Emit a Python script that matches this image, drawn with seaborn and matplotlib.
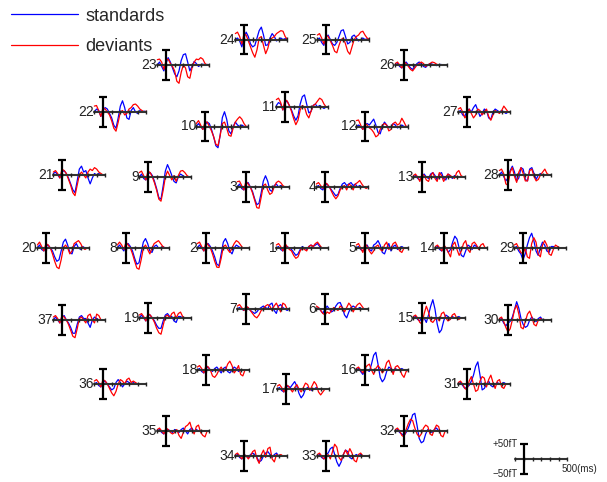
import pandas as pd
import matplotlib.pyplot as plt
from matplotlib.lines import Line2D
import seaborn as sns

sns.set_style('white')
plt.rcParams['font.family'] = ['Liberation Sans', 'DejaVu Sans']

# ---------------------------------------------------------------
# Dados: campos (fT) por canal, amostras de -100 a 500 ms a cada 25 ms
# ---------------------------------------------------------------
times = list(range(-100, 501, 25))

std1 = [0, 5, -5, -10, 5, 5, 0, -5, -15, -25, -20, -5, 5, 0, -5, 5, 10, 5, 10, 15, 5, 0, 0, 0, 0]
dev1 = [10, 15, 5, -10, 15, 5, -5, -10, -25, -35, -30, -10, 0, -5, -10, 5, 10, 5, 15, 20, 10, 0, 0, 0, 0]
std2 = [0, 10, 0, -10, 10, 15, 5, -10, -30, -55, -60, -20, 20, 32, 15, -10, -20, 0, 10, 5, 0, 0, 0, 0, 0]
dev2 = [15, 20, 5, -10, 20, 10, 0, -20, -45, -65, -66, -35, 5, 10, -5, -15, 0, 15, 25, 20, 10, 0, 0, 0, 0]
std3 = [0, 10, -5, -10, 10, 15, 0, -15, -40, -60, -55, -20, 20, 38, 20, -10, -15, 5, 10, 0, 5, 0, 0, 0, 0]
dev3 = [18, 20, 5, -10, 20, 10, 0, -20, -45, -70, -72, -35, 5, 10, -10, -25, -20, 0, 15, 20, 15, 5, 0, 0, 0]
std4 = [0, 5, -5, -10, 5, 10, 0, -10, -20, -30, -25, -5, 10, 15, 5, 10, 15, 5, 10, 0, 5, 0, 0, 0, 0]
dev4 = [10, 15, 5, -5, 15, 10, 0, -15, -30, -40, -30, -10, 0, 5, -10, 10, 5, -10, 10, 15, 22, 10, 0, -5, 0]
std5 = [0, 5, -5, -10, 5, 10, -5, -10, 10, 15, 25, 10, -15, -20, 0, 15, -10, 5, 10, -5, 0, 5, 0, 0, 0]
dev5 = [10, 15, 0, -15, 15, 5, -10, -20, -10, 5, 10, -5, -10, 10, 20, -5, 0, 15, 20, 5, -10, -15, 0, 0, 0]
std6 = [0, 5, -5, -15, 0, 10, 0, -10, -5, 10, 20, 22, 5, -20, -30, -10, 5, 10, 5, 0, 5, 0, 0, 0, 0]
dev6 = [10, 5, -5, -15, -20, -10, -15, -5, 5, 0, -5, 10, 5, -10, 5, 20, 10, -10, 5, 15, 20, 10, 0, 0, 0]
std7 = [0, 5, 0, -5, 5, 5, -5, -10, -15, -10, 0, 5, 10, 5, 0, 15, 20, -5, -15, 10, 15, 5, 0, -5, 0]
dev7 = [10, 15, 5, -5, 10, 5, -5, -15, -25, -30, -20, -5, 0, 10, 15, 10, -5, 10, 20, 5, -10, 20, 15, 0, 0]
std8 = [0, 10, 0, -10, 10, 15, 5, -10, -35, -55, -50, -15, 20, 32, 15, -10, -15, 5, 10, 0, 0, 5, 0, 0, 0]
dev8 = [10, 20, 10, -5, 20, 10, 0, -20, -45, -68, -72, -40, 0, 10, -5, -20, 0, 15, 20, 25, 15, 5, 0, 0, 0]
std9 = [0, 10, -5, -10, 10, 15, 5, -15, -40, -70, -75, -30, 20, 42, 25, 5, -15, -20, 0, 10, 5, 0, 0, 0, 0]
dev9 = [15, 20, 5, -10, 20, 15, 0, -20, -45, -75, -82, -45, 0, 20, 5, -10, 5, -15, 5, 20, 22, 15, 5, 0, 0]
std10 = [0, 10, 0, -10, 5, 15, 10, -10, -35, -65, -72, -30, 30, 50, 25, -15, -25, 0, 15, 5, 0, 5, 0, 0, 0]
dev10 = [10, 20, 5, -10, 15, 15, 0, -15, -35, -60, -65, -30, 10, 15, -5, -30, -33, -5, 15, 25, 33, 25, 10, 0, 0]
std11 = [5, 15, 10, -10, 15, 20, 5, -10, -30, -45, -30, 10, 35, 41, 10, -20, -15, 5, 10, 0, 5, 0, -5, 0, 0]
dev11 = [25, 30, 15, -10, 25, 20, 5, -15, -40, -60, -45, -10, 5, 0, -25, -37, -15, 5, 10, 20, 30, 25, 10, 0, 0]
std12 = [0, 5, 0, -10, 5, 10, 5, 15, 25, 5, -20, -25, 0, 15, 5, -5, 0, 10, 5, -5, 0, 5, 0, 0, 0]
dev12 = [20, 22, 5, -10, 10, 5, -5, -10, -20, -35, -30, -10, 5, 10, 5, -15, -10, 10, 15, 5, 10, 28, 15, 0, 0]
std13 = [0, 5, -5, -10, 5, 10, 0, -5, 10, 15, 5, -10, 10, 15, -5, -10, 10, 5, -5, 5, 0, 0, 0, 0, 0]
dev13 = [5, 10, 0, -15, 10, 5, -10, -15, 5, 15, -5, -15, 15, 5, -15, 0, 10, 5, 0, -5, 15, 22, 5, 0, 0]
std14 = [0, 5, -5, -10, 5, 0, -15, -5, 20, 40, 30, 0, -25, -30, -10, 10, 5, -5, 10, 5, 0, 0, 0, 0, 0]
dev14 = [5, 10, 0, -10, 10, 0, -15, -30, 10, 20, -5, -25, -10, 15, 25, -5, -15, 15, 20, 10, -5, 10, 15, 0, 0]
std15 = [0, 5, -5, -10, 5, 0, -15, 10, 40, 62, 30, -20, -50, -40, -10, 10, 5, -5, 5, 0, 0, 5, 0, 0, 0]
dev15 = [5, 10, 0, -15, -20, 15, 40, 20, -10, -15, -5, 0, -10, 15, 20, 0, -10, -5, 10, 15, 0, -5, 0, 0, 0]
std16 = [0, 5, -5, -15, 5, 0, -5, 20, 50, 60, 20, -25, -40, -30, -5, 10, 5, -5, 5, 0, 0, 5, 0, 0, 0]
dev16 = [5, 10, 0, -10, 5, 15, 20, 0, -15, 5, 15, 5, -10, 0, 25, 33, 10, -15, 10, 15, 5, -15, -25, -5, 0]
std17 = [0, 5, -5, -10, 5, 10, 5, 15, 25, 10, -15, -30, -20, 0, 5, 0, -5, 0, 5, 0, 0, 0, 0, 0, 0]
dev17 = [10, 15, 5, -10, 15, 10, 0, -10, 5, 15, 0, -10, 5, 20, 15, -5, 10, 25, 15, -10, -20, -10, 0, 0, 0]
std18 = [0, 5, -5, -10, 5, 10, 0, -5, 5, 10, 0, -10, 5, 10, -5, -10, 0, 10, 5, -5, 0, 0, 0, 0, 0]
dev18 = [10, 15, 5, -10, 15, 10, 0, -20, -25, -15, 0, 10, -5, 0, 20, 30, 15, -10, 0, 15, -15, -20, 0, 0, 0]
std19 = [0, 10, 0, -10, 10, 10, 0, -10, -25, -35, -35, -10, 10, 15, 5, 5, -10, -15, 5, 5, 0, 0, 0, 0, 0]
dev19 = [10, 15, 5, -10, 15, 10, 0, -15, -35, -50, -55, -25, 5, 10, 0, 15, 20, 0, 15, 20, 5, 0, 0, 0, 0]
std20 = [0, 10, -5, -10, 5, 10, 0, -10, -30, -45, -40, -10, 20, 30, 10, -15, -20, 5, 15, 0, -5, 5, 0, 0, 0]
dev20 = [10, 20, 5, -10, 15, 10, 0, -20, -45, -65, -70, -40, 0, 10, 0, -20, -10, 15, 20, 25, 15, 0, -5, 0, 0]
std21 = [5, 10, 0, -10, 10, 15, 5, -10, -30, -50, -60, -20, 20, 30, 10, 15, -10, -30, -10, 5, 0, 5, 0, 0, 0]
dev21 = [10, 15, 5, -10, 20, 15, 5, -15, -35, -60, -70, -35, 0, 10, 0, -10, 10, 20, 15, 25, 20, 10, 5, 0, 0]
std22 = [0, 10, 5, -15, 5, 15, 10, -5, -20, -45, -55, -20, 20, 38, 15, -20, -25, 5, 15, 0, -5, 5, 0, 3, 0]
dev22 = [20, 22, 5, -15, 15, 10, 0, -10, -30, -55, -65, -35, 0, 5, -10, -5, 10, 15, 25, 27, 20, 10, 5, 0, 3]
std23 = [0, 10, -5, -20, 5, 25, 10, -10, -30, -40, -20, 15, 35, 38, 10, -20, -5, 12, 5, -5, 0, 3, 0, 2, 0]
dev23 = [18, 20, 10, -15, 15, 20, 5, -5, -20, -55, -62, -25, 0, -10, -40, -45, -10, 10, 20, 18, 25, 20, 5, 0, -3]
std24 = [0, 5, -5, -25, 5, 25, 10, -15, -25, -20, 5, 30, 42, 15, -20, -18, 5, 20, 10, -5, 0, 5, 0, 3, 0]
dev24 = [20, 25, 10, -15, 20, 15, -5, -25, -45, -60, -35, 5, 10, -20, -48, -30, 0, 5, 10, 20, 25, 30, 28, 10, 0]
std25 = [0, 5, -10, -20, 10, 15, 0, -15, -20, -10, 10, 30, 33, 10, -15, -10, 10, 15, 5, -5, 0, 5, 0, 2, 0]
dev25 = [15, 20, 5, -15, 15, 10, -5, -20, -40, -45, -20, 0, 5, -15, -40, -50, -25, 0, 10, 15, 25, 28, 15, 5, 0]
std26 = [0, 5, -5, -10, 5, 10, 0, -10, -15, -5, 5, 10, 5, -5, -8, 0, 5, 3, 0, -2, 0, 2, 0, 1, 0]
dev26 = [5, 10, 0, -10, 10, 5, -5, -15, -20, -10, 0, 5, 10, 5, -5, 0, 5, 10, 8, 3, 0, 0, 0, 0, 0]
std27 = [0, 5, -10, -15, 5, 10, 0, 15, 25, 5, -15, -5, 10, 5, -20, -25, 0, 10, 5, 0, 5, 0, -5, 0, 0]
dev27 = [10, 15, 0, -20, -10, 10, -5, -20, -10, 10, 5, -10, 0, 10, -15, -28, -10, 5, 0, -5, 5, 20, 10, 0, 0]
std28 = [0, 10, -5, -20, -10, 15, 30, 10, -20, -10, 25, 20, -15, -20, 20, 25, 5, -15, 0, 5, 0, 0, 0, 0, 0]
dev28 = [15, 20, 5, -30, -35, 10, 25, -5, -25, 10, 25, 5, -20, -20, 15, 20, -5, -20, -15, 0, 10, 20, 5, 0, 0]
std29 = [0, 5, -10, -20, -40, -20, 10, 35, 50, 25, -10, -25, 0, 20, 10, -10, -15, 5, 5, 0, 0, 0, 0, 0, 0]
dev29 = [10, 15, 0, -15, -20, 0, -30, -35, 15, 35, 20, -20, -30, 10, 25, 10, -20, -25, -5, 10, 5, 0, 0, 0, 0]
std30 = [0, 5, -10, -20, -10, -5, 10, 35, 62, 40, 5, -15, -25, -20, 0, 10, 0, -5, 5, 10, 0, 0, 0, 0, 0]
dev30 = [5, 10, -5, -25, -40, -30, 0, 35, 50, 20, -25, -30, -5, 20, 30, 10, -15, -20, 0, 5, 0, 0, 0, 0, 0]
std31 = [0, 5, -5, -15, -10, -5, 10, 30, 60, 75, 30, -20, -15, 0, 10, -5, -10, 0, 5, 0, 0, 5, 0, 0, 0]
dev31 = [5, 10, 0, -15, -20, 10, 25, 0, -25, -20, 10, 25, 20, -10, 15, 30, 5, -15, 10, 15, -10, -15, 0, 0, 0]
std32 = [0, 5, -5, -10, -15, -5, 10, 30, 55, 60, 20, -25, -40, -35, -10, 5, 0, -5, 5, 10, 0, 0, 0, 0, 0]
dev32 = [5, 10, 0, -15, -20, 5, 25, 40, 35, 10, -10, -20, -10, 10, 20, 15, -10, -15, 5, 20, 15, -15, -20, 0, 0]
std33 = [0, 5, -5, -10, 5, 10, 25, 30, 5, -20, -35, -20, 5, 20, 15, -5, -10, 0, 5, 0, 5, 0, 0, 0, 0]
dev33 = [5, 10, 0, -10, -5, 5, -10, 15, 40, 30, -5, -15, 5, 20, 5, 25, 10, -15, -20, 5, 10, 0, 0, 0, 0]
std34 = [0, 5, -5, -10, 5, 0, -5, 5, 10, 5, -5, -20, -15, 0, 10, 15, 5, -5, 5, 10, 0, 0, 0, 0, 0]
dev34 = [5, 10, 0, -10, 5, 0, -10, 0, 15, 20, -10, -25, 5, 20, -5, 25, 30, -10, -20, 5, 0, 5, 0, 0, 0]
std35 = [0, 5, -5, -10, 5, 5, 0, -5, 5, 0, -5, 5, 10, 0, -10, 5, 10, -5, 5, 0, 0, 0, 0, 0, 0]
dev35 = [5, 10, 0, -10, 10, 5, -5, -10, -5, 5, -15, -25, -5, 15, 20, 30, 5, -10, 15, 20, -5, -15, -20, 0, 0]
std36 = [0, 5, -5, -10, 5, 10, 0, -10, -20, -15, 5, 15, 5, -10, 0, 10, 5, 0, 5, 0, 0, 0, 0, 0, 0]
dev36 = [10, 15, 5, -10, 15, 10, 0, -15, -30, -40, -25, 0, 15, 10, 0, 15, 20, 5, 10, 5, 0, 0, 0, 0, 0]
std37 = [0, 10, 0, -10, 10, 15, 0, -10, -25, -45, -45, -15, 10, 15, 5, 5, -10, -25, 0, 10, 5, 0, 0, 0, 0]
dev37 = [10, 15, 5, -10, 15, 10, 0, -15, -35, -55, -60, -30, 5, 10, 0, -10, 15, 20, 0, -10, 20, 15, 0, 0, 0]

g = globals()
rows = []
for ch in range(1, 38):
    for cond, pre in [('standards', 'std'), ('deviants', 'dev')]:
        for t, v in zip(times, g[f'{pre}{ch}']):
            rows.append({'canal': ch, 'cond': cond, 'ms': t, 'fT': v})
df = pd.DataFrame(rows)

# ---------------------------------------------------------------
# Layout: posição (px) do ponto t=0 / 0 fT de cada sensor
# ---------------------------------------------------------------
pos = {
    24: (244, 39.5), 25: (326, 39.5),
    23: (166, 65), 26: (404, 65),
    11: (285, 107), 22: (103, 112), 27: (467, 112),
    10: (205, 126.5), 12: (365, 126.5),
    21: (62, 175), 28: (508, 175), 9: (148, 177), 13: (422, 177),
    3: (246, 187), 4: (325, 187),
    20: (46, 248), 8: (126, 248), 2: (206, 248), 1: (285, 248),
    5: (365, 248), 14: (444, 248), 29: (523, 248),
    7: (246, 309), 6: (325, 309), 19: (148, 318), 15: (422, 318),
    37: (62, 320), 30: (508, 320),
    18: (206, 370), 16: (365, 370), 36: (103, 384), 31: (467, 384),
    17: (286, 389),
    35: (166, 431), 32: (404, 431),
    34: (244, 456), 33: (326, 456),
}

W, H = 607, 482
PX_MS = 52 / 600
PX_FT = 29.5 / 100
cores = {'standards': 'blue', 'deviants': 'red'}

fig = plt.figure(figsize=(W / 100, H / 100), dpi=100)


def eixo(x0, y0):
    ax = fig.add_axes([(x0 - 100 * PX_MS) / W, (H - y0 - 50 * PX_FT) / H,
                       600 * PX_MS / W, 100 * PX_FT / H])
    ax.set_xlim(-100, 500)
    ax.set_ylim(-50, 50)
    ax.axis('off')
    return ax


def escala(ax):
    ax.axhline(0, color='#333333', lw=1.5, zorder=3, clip_on=False)
    ax.vlines(range(-100, 501, 100), -7, 7, color='#222222', lw=1, zorder=3, clip_on=False)
    ax.errorbar(0, 0, yerr=50, color='black', lw=1.6, capsize=3, capthick=1.6,
                zorder=4, clip_on=False)


for ch, (x0, y0) in pos.items():
    ax = eixo(x0, y0)
    sub = df[df['canal'] == ch]
    sns.lineplot(data=sub, x='ms', y='fT', hue='cond', palette=cores,
                 hue_order=['standards', 'deviants'], estimator=None,
                 lw=0.9, legend=False, ax=ax)
    for ln in ax.lines:
        ln.set_clip_on(False)
    escala(ax)
    ax.text(-100, 0, str(ch), ha='right', va='center', fontsize=10, color='#222222')

# barra de escala
ax = eixo(524, 459)
escala(ax)
ax.text(-70, 50, '+50fT', ha='right', va='center', fontsize=7)
ax.text(-70, -50, '\u221250fT', ha='right', va='center', fontsize=7)
ax.text(430, -35, '500(ms)', ha='left', va='center', fontsize=7)

# legenda
handles = [Line2D([], [], color='blue', lw=0.9), Line2D([], [], color='red', lw=0.9)]
fig.legend(handles, ['standards', 'deviants'], loc='upper left',
           bbox_to_anchor=(-0.017, 1.029), frameon=False, fontsize=13,
           handlelength=3.7, handletextpad=0.4, labelspacing=0.75, borderpad=0.7)

plt.savefig('out.png', dpi=100)
